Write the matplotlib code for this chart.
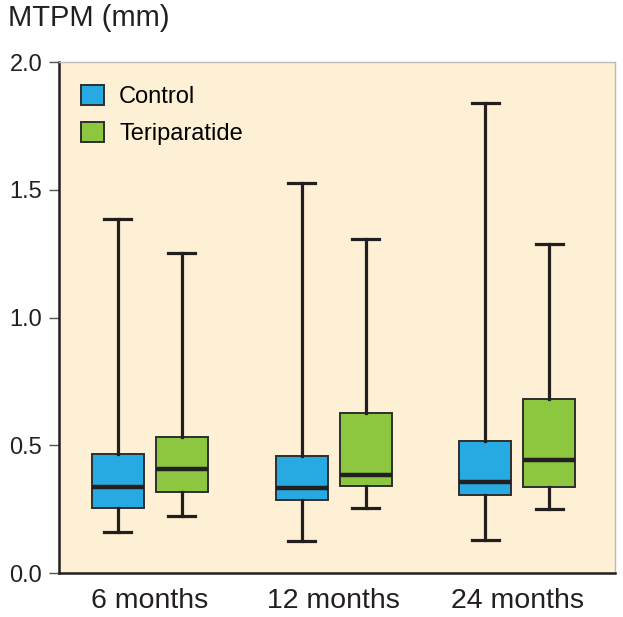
import numpy as np
import matplotlib
matplotlib.use("Agg")
import matplotlib.pyplot as plt
from matplotlib.patches import Patch

plt.rcParams['font.family'] = ['Liberation Sans', 'DejaVu Sans']

# values (MTPM, mm)
periods = ['6 months', '12 months', '24 months']
groups = ['Control', 'Teriparatide']
ctrl_lo = [0.160, 0.125, 0.129]
ctrl_q1 = [0.254, 0.286, 0.305]
ctrl_med = [0.337, 0.333, 0.356]
ctrl_q3 = [0.466, 0.458, 0.517]
ctrl_hi = [1.385, 1.526, 1.840]
teri_lo = [0.223, 0.254, 0.250]
teri_q1 = [0.317, 0.341, 0.337]
teri_med = [0.407, 0.383, 0.442]
teri_q3 = [0.532, 0.626, 0.681]
teri_hi = [1.252, 1.307, 1.288]

colors = ['#27AAE1', '#8DC63F']
dark = '#231F20'


def make_stats(lo, q1, med, q3, hi):
    return [dict(whislo=a, q1=b, med=c, q3=d, whishi=e, fliers=[])
            for a, b, c, d, e in zip(lo, q1, med, q3, hi)]


fig = plt.figure(figsize=(6.23, 6.17), dpi=100)
ax = fig.add_axes([0.0947, 0.0713, 0.892, 0.828])
ax.set_facecolor('#FEF0D4')

pos = np.arange(len(periods))
off = 0.174
width = 0.283
all_stats = [make_stats(ctrl_lo, ctrl_q1, ctrl_med, ctrl_q3, ctrl_hi),
             make_stats(teri_lo, teri_q1, teri_med, teri_q3, teri_hi)]
for i, st in enumerate(all_stats):
    ax.bxp(st, positions=pos + (i * 2 - 1) * off, widths=width,
           capwidths=0.147, patch_artist=True, showfliers=False,
           boxprops=dict(facecolor=colors[i], edgecolor='#2e2e2e', linewidth=1.4),
           whiskerprops=dict(color=dark, linewidth=2.3),
           capprops=dict(color=dark, linewidth=2.3),
           medianprops=dict(color=dark, linewidth=3.2))

ax.set_xlim(-0.495, 2.53)
ax.set_ylim(0, 2.0)
ax.set_xticks(pos)
ax.set_xticklabels(periods, fontsize=20.5)
ax.set_yticks(np.arange(0, 2.01, 0.5))
ax.set_yticklabels([f'{v:.1f}' for v in np.arange(0, 2.01, 0.5)], fontsize=17)
ax.tick_params(axis='x', length=0, pad=11, colors=dark)
ax.tick_params(axis='y', length=7, width=1, color='#555555', pad=5, labelcolor=dark)

for s in ['left', 'bottom']:
    ax.spines[s].set_color(dark)
    ax.spines[s].set_linewidth(1.8)
for s in ['top', 'right']:
    ax.spines[s].set_color('#BBBBBB')
    ax.spines[s].set_linewidth(1.0)

fig.text(8 / 623, 1 - 18 / 617, 'MTPM (mm)', fontsize=21, va='center', ha='left', color=dark)

handles = [Patch(facecolor=c, edgecolor='#2e2e2e', linewidth=1.4) for c in colors]
ax.legend(handles, groups, loc='upper left', frameon=False, fontsize=17,
          handlelength=0.95, handleheight=0.95, handletextpad=0.65,
          labelspacing=0.6, borderaxespad=0.6, borderpad=0.35)

fig.savefig('out.png', dpi=100)
